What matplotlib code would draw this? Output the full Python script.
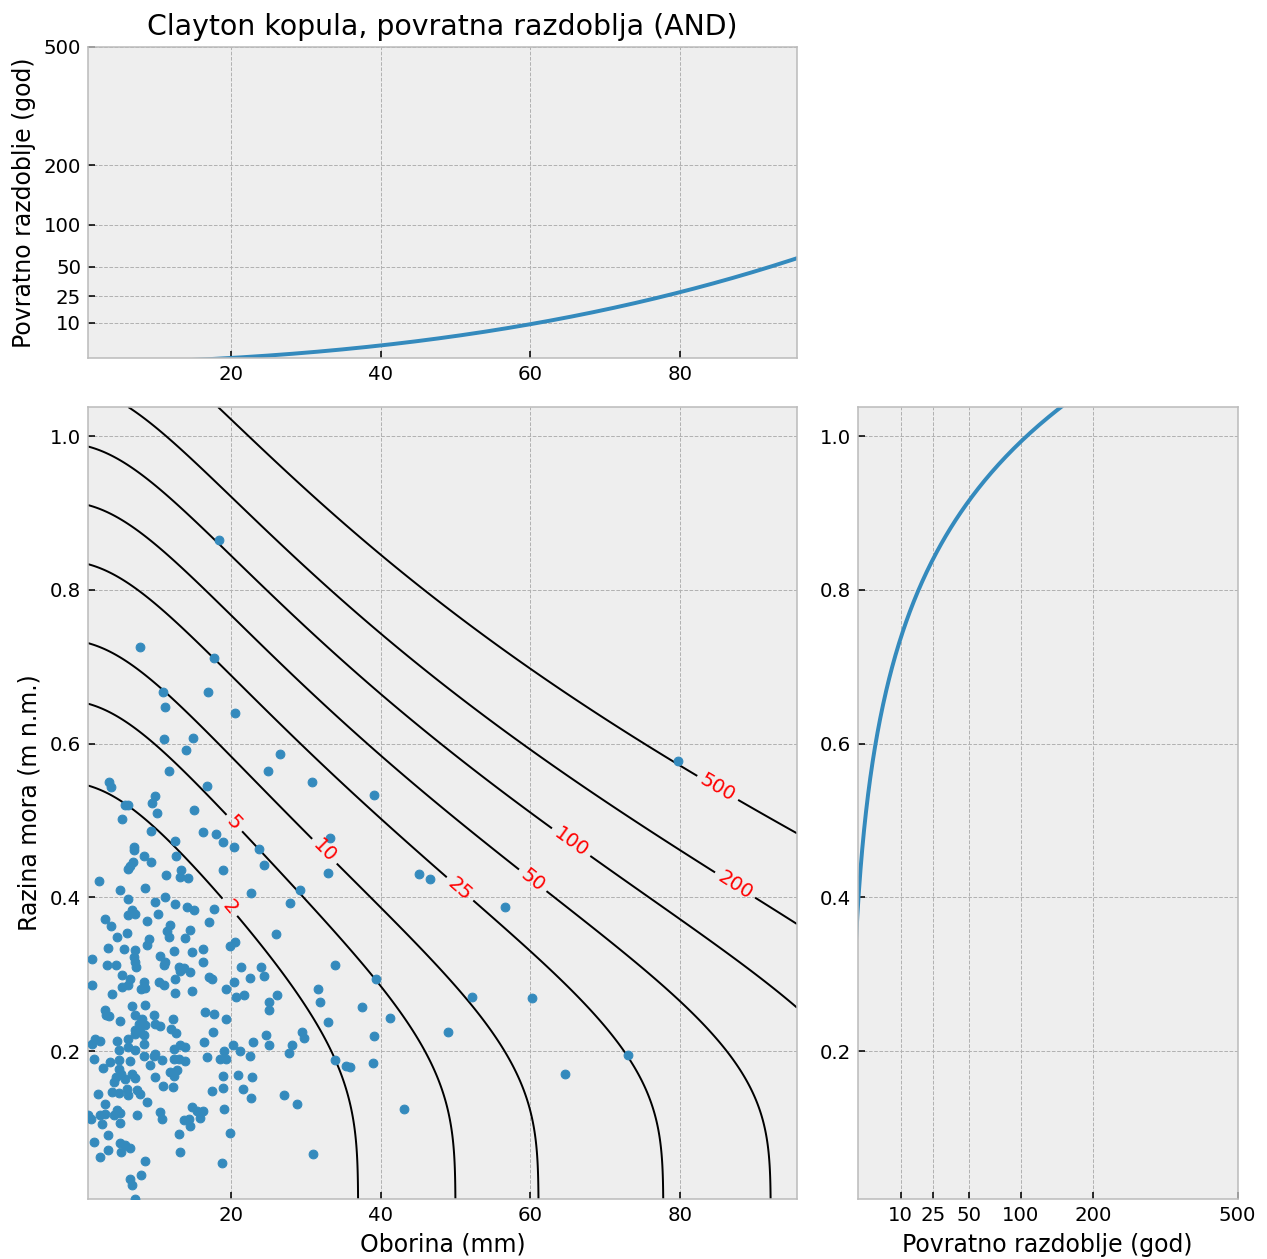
import numpy as np
import matplotlib
matplotlib.use("Agg")
import matplotlib.pyplot as plt

# Observed event pairs: precipitation (mm) and sea level (m a.s.l.)
oborina = [
    3.64, 4.0, 9.88, 9.44, 5.78, 6.2, 5.51, 10.1, 9.35, 12.46, 7.11, 7.03, 8.32, 9.35, 12.69,
    6.9, 6.54, 6.31, 13.36, 13.13, 14.25, 11.35, 2.43, 5.2, 8.54, 6.31, 11.22, 9.79, 12.55,
    14.1, 15.0, 6.76, 6.23, 7.2, 10.3,
    16.8, 15.13, 16.26, 18.03, 18.88, 20.35, 23.7, 24.36, 19.0, 22.67, 29.27, 27.93, 17.67,
    3.19, 4.0, 8.77, 11.88, 11.44, 11.75, 14.56, 13.89, 6.09, 4.75, 8.99, 8.77, 3.55, 5.73,
    7.21, 6.98, 7.21, 7.3, 1.41, 3.42, 4.67, 10.55, 11.22, 10.99, 12.33, 13.0, 13.67, 13.22,
    12.55, 14.78, 5.42, 6.54, 6.31, 5.42, 8.32, 8.01, 8.54, 10.41, 10.99, 1.41, 12.55, 14.56,
    14.78, 4.09, 6.76, 8.54, 3.19, 3.28, 3.64, 7.21, 8.1, 9.66, 7.65, 8.54, 7.21, 7.87, 8.32,
    7.21, 5.2, 9.88, 10.55, 12.2, 12.02, 12.64, 1.86, 2.53, 1.5, 4.75, 6.31, 6.22, 8.32, 4.98,
    7.12, 9.88, 12.33, 13.22, 13.8,
    17.1, 26.06, 19.82, 20.57, 16.25, 16.25, 21.38, 24.01, 24.45, 22.49, 17.01, 17.46, 20.35,
    19.37, 21.69, 20.71, 26.15, 25.03, 25.03, 16.56, 17.68, 19.37, 17.59, 16.43, 24.72, 22.94,
    25.03, 20.26, 29.49, 29.71, 28.15, 27.71, 21.24, 19.02,
    1.64, 3.86, 4.98, 6.54, 8.32, 9.66, 9.21, 10.77, 12.33, 13.09, 13.89, 2.84, 4.98, 5.33,
    4.62, 4.31, 5.78, 6.76, 7.21, 9.79, 11.88, 12.78, 12.33, 4.09, 4.98, 6.09, 6.22, 7.43,
    7.87, 2.21, 8.77, 10.86, 12.2, 3.19, 14.78, 0.9, 1.32, 2.53, 3.19, 4.75, 5.2, 4.31, 2.75,
    5.2, 7.43, 10.55, 10.77, 13.67, 14.34, 14.56, 3.55, 13.0, 1.64, 5.2, 5.87, 6.54, 3.55,
    5.33, 13.22, 2.53, 8.54, 8.01, 6.54, 6.76, 7.21,
    16.79, 18.48, 19.37, 22.49, 18.93, 20.89, 22.8, 17.46, 18.93, 21.6, 22.67, 27.04, 28.82,
    15.45, 16.25, 15.9, 19.02, 19.91, 18.79,
    18.35, 7.87, 17.77, 10.9, 16.92, 11.22, 20.6, 11.08, 14.92, 13.98, 26.59, 11.66, 24.94,
    30.82,
    39.16, 33.28, 32.92, 45.18, 46.65, 56.58, 33.86, 39.43, 31.58, 31.85, 37.51, 41.21, 52.22,
    60.28, 32.92, 39.07, 49.05, 33.86, 35.42, 35.95, 38.98, 73.07, 64.65, 43.08,
    79.7, 31.0,
]
razina = [
    0.550, 0.543, 0.532, 0.523, 0.520, 0.520, 0.502, 0.510, 0.486, 0.473, 0.466, 0.461, 0.4535,
    0.446, 0.4535, 0.446, 0.4405, 0.4375, 0.4353, 0.4266, 0.4258, 0.4292, 0.421, 0.410, 0.412,
    0.398, 0.400, 0.3945, 0.391, 0.388, 0.384, 0.383, 0.377, 0.378, 0.378,
    0.5447, 0.5134, 0.485, 0.482, 0.4716, 0.4656, 0.4626, 0.4418, 0.4353, 0.406, 0.409, 0.392,
    0.385,
    0.372, 0.3628, 0.369, 0.3645, 0.3559, 0.3485, 0.3572, 0.3472, 0.3541, 0.3485, 0.3454,
    0.3376, 0.3342, 0.3324, 0.332, 0.3224, 0.3159, 0.3094, 0.3194, 0.3125, 0.3125, 0.3237,
    0.3159, 0.3125, 0.3303, 0.3094, 0.3081, 0.3038, 0.2942, 0.329, 0.2994, 0.2942, 0.2856,
    0.2834, 0.2899, 0.2803, 0.282, 0.2899, 0.2856, 0.2864, 0.276, 0.3029, 0.2778, 0.2747,
    0.2586, 0.2595, 0.2539, 0.2474, 0.2452, 0.2465, 0.2422, 0.2474, 0.2356, 0.2335, 0.2270,
    0.2248, 0.2204, 0.2226, 0.2387, 0.2356, 0.2326, 0.2413, 0.2291, 0.2239, 0.2152, 0.2126,
    0.2096, 0.2126, 0.2152, 0.2053, 0.2096, 0.2009, 0.2009, 0.1966, 0.2031, 0.2083, 0.2053,
    0.368, 0.352, 0.3368, 0.342, 0.3333, 0.316, 0.3094, 0.3094, 0.2977, 0.2955, 0.2964,
    0.2934, 0.2899, 0.2803, 0.2734, 0.2704, 0.2725, 0.2639, 0.2530, 0.2508, 0.2478, 0.2413,
    0.2248, 0.2118, 0.2204, 0.2118, 0.2083, 0.2074, 0.2248, 0.217, 0.2074, 0.1979, 0.1996,
    0.1996,
    0.1892, 0.1857, 0.1879, 0.1866, 0.1935, 0.1935, 0.1822, 0.1879, 0.19, 0.1892, 0.1866,
    0.1779, 0.1762, 0.1705, 0.1662, 0.1597, 0.1631, 0.1705, 0.1649, 0.1662, 0.1727, 0.1749,
    0.1675, 0.1467, 0.1458, 0.151, 0.1423, 0.1488, 0.1445, 0.1445, 0.1336, 0.1545, 0.1532,
    0.1315, 0.1271, 0.1171, 0.1111, 0.1171, 0.1184, 0.1228, 0.1197, 0.1163, 0.1054, 0.1067,
    0.1171, 0.1206, 0.1111, 0.1098, 0.112, 0.1024, 0.0911, 0.0924, 0.0816, 0.0807, 0.0781,
    0.0738, 0.0707, 0.0685, 0.0685, 0.062, 0.0564, 0.039, 0.033, 0.0251, 0.0075,
    0.1922, 0.1892, 0.1892, 0.1935, 0.1675, 0.1684, 0.1662, 0.1475, 0.1523, 0.151, 0.1388,
    0.1423, 0.1315, 0.1215, 0.1215, 0.1128, 0.125, 0.0933, 0.0542,
    0.865, 0.7253, 0.711, 0.6667, 0.6667, 0.648, 0.6398, 0.6059, 0.6072, 0.5916, 0.5864,
    0.5638, 0.5638, 0.5495,
    0.5332, 0.4767, 0.4312, 0.4303, 0.4238, 0.3869, 0.3118, 0.2936, 0.2801, 0.264, 0.2567,
    0.2424, 0.2706, 0.2684, 0.238, 0.2202, 0.2246, 0.1881, 0.1807, 0.1794, 0.1847, 0.1946,
    0.1699, 0.1252,
    0.577, 0.0655,
]

# Return-period levels (years) for the joint AND contours
razine = [2, 5, 10, 25, 50, 100, 200, 500]
tick_god = [10, 25, 50, 100, 200, 500]

# Fitted GEV marginals, Clayton parameter and mean inter-arrival time (years)
GEV_OBORINA = dict(xi=0.1634, loc=9.0036, scale=8.2758)
GEV_RAZINA = dict(xi=-0.0105, loc=0.2405, scale=0.1173)
THETA = 0.01
MU = 0.1309

# Positions for the inline contour labels
label_pos = [(20.2, 0.39), (20.6, 0.498), (32.6, 0.461), (50.7, 0.412),
             (60.4, 0.423), (65.4, 0.471), (87.4, 0.4165), (84.9, 0.54)]


def gev_cdf(x, xi, loc, scale):
    z = (np.asarray(x, float) - loc) / scale
    if abs(xi) < 1e-9:
        t = np.exp(-z)
    else:
        t = np.maximum(1 + xi * z, 1e-300) ** (-1.0 / xi)
    return np.exp(-t)


def clayton(u, v, th):
    return (u ** -th + v ** -th - 1) ** (-1.0 / th)


def joint_and_survival(u, v, th):
    u = np.clip(u, 1e-12, 1 - 1e-15)
    v = np.clip(v, 1e-12, 1 - 1e-15)
    return np.maximum(1 - u - v + clayton(u, v, th), 1e-15)


x_arr = np.asarray(oborina)
y_arr = np.asarray(razina)
xg = np.linspace(x_arr.min(), 1.2 * x_arr.max(), 400)
yg = np.linspace(y_arr.min(), 1.2 * y_arr.max(), 400)
U = gev_cdf(xg, **GEV_OBORINA)
V = gev_cdf(yg, **GEV_RAZINA)
UU, VV = np.meshgrid(U, V)
T_and = MU / joint_and_survival(UU, VV, THETA)
T_x = MU / (1 - U)
T_y = MU / (1 - V)

plt.style.use("bmh")
fig = plt.figure(figsize=(1267 / 142, 1259 / 142), dpi=142)
ax_top = fig.add_axes([88 / 1267, 1 - 358 / 1259, 709 / 1267, 311 / 1259])
ax = fig.add_axes([88 / 1267, 1 - 1199 / 1259, 709 / 1267, 792 / 1259])
ax_r = fig.add_axes([857.5 / 1267, 1 - 1199 / 1259, 380 / 1267, 792 / 1259])

# Main panel: observations with joint return-period isolines
ax.scatter(x_arr, y_arr, s=20, zorder=3)
cs = ax.contour(xg, yg, T_and, levels=razine, colors="k", linewidths=1)
ax.clabel(cs, fmt="%d", colors="red", inline=True, manual=label_pos)
ax.set_xlim(xg[0], xg[-1])
ax.set_ylim(yg[0], yg[-1])
ax.set_xlabel("Oborina (mm)")
ax.set_ylabel("Razina mora (m n.m.)")

sqrt_scale = (lambda t: np.sqrt(np.clip(t, 0, None)), lambda t: np.square(t))

# Top panel: marginal return period of precipitation
ax_top.plot(xg, T_x)
ax_top.set_yscale("function", functions=sqrt_scale)
ax_top.set_ylim(0.5, 500)
ax_top.set_xlim(xg[0], xg[-1])
ax_top.set_yticks(tick_god)
ax_top.set_yticklabels([str(t) for t in tick_god])
ax_top.set_ylabel("Povratno razdoblje (god)")
ax_top.set_title("Clayton kopula, povratna razdoblja (AND)")

# Right panel: marginal return period of sea level
ax_r.plot(T_y, yg)
ax_r.set_xscale("function", functions=sqrt_scale)
ax_r.set_xlim(0.5, 500)
ax_r.set_ylim(yg[0], yg[-1])
ax_r.set_xticks(tick_god)
ax_r.set_xticklabels([str(t) for t in tick_god])
ax_r.set_xlabel("Povratno razdoblje (god)")

fig.savefig("out.png", dpi=142)
